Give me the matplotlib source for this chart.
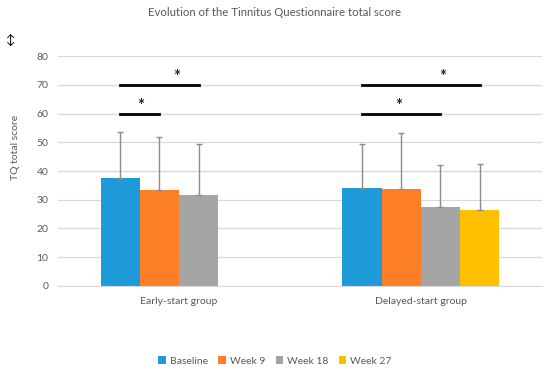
import numpy as np
import matplotlib.pyplot as plt

plt.rcParams['font.family'] = ['Lato', 'DejaVu Sans']

groups = ['Early-start group', 'Delayed-start group']
series = ['Baseline', 'Week 9', 'Week 18', 'Week 27']
colors = ['#1f9ad8', '#fd7f25', '#a5a5a5', '#ffc000']

# mean TQ score (nan = not measured)
means = [[37.6, 34.2],
         [33.5, 33.6],
         [31.5, 27.6],
         [np.nan, 26.5]]
# upper error (SD)
errs = [[16.1, 15.2],
        [18.4, 19.5],
        [17.9, 14.4],
        [np.nan, 16.0]]

# significance brackets: (group, series from, series to, level, star x offset)
sig = [(0, 0, 2, 70, -0.01), (0, 0, 1, 60, -0.16),
       (1, 0, 3, 70, 0.09), (1, 0, 2, 60, -0.09)]

fig = plt.figure(figsize=(5.5, 3.71), dpi=100)
ax = fig.add_axes([0.1055, 0.2299, 0.8795, 0.6183])

x = np.arange(len(groups))
w = 0.162
for i, s in enumerate(series):
    off = (i - 1.5) * w
    m = np.array(means[i])
    e = np.array(errs[i])
    ax.bar(x + off, m, w, color=colors[i], label=s, zorder=2)
    ax.errorbar(x + off, m, yerr=[np.zeros_like(e), e], fmt='none',
                ecolor='#8c8c8c', elinewidth=1, capsize=2.5, capthick=1, zorder=3)

for g, a, b, lvl, sx in sig:
    xa = g + (a - 1.5) * w
    xb = g + (b - 1.5) * w
    ax.plot([xa, xb], [lvl, lvl], color='black', lw=2, zorder=4)
    ax.text(g + sx, lvl + 2.8, '*', ha='center', va='center', fontsize=12,
            fontweight='bold', color='#222222')

ax.set_xlim(-0.5, 1.5)
ax.set_ylim(0, 80)
ax.set_yticks(range(0, 81, 10))
ax.set_xticks(x)
ax.set_xticklabels(groups)
ax.grid(axis='y', color='#d9d9d9', lw=0.9, zorder=0)
for sp in ['top', 'right', 'left']:
    ax.spines[sp].set_visible(False)
ax.spines['bottom'].set_color('#d9d9d9')
ax.tick_params(length=0, labelsize=7.5, colors='#595959')
ax.tick_params(axis='y', pad=7)
ax.tick_params(axis='x', pad=8)

fig.text(0.5, 1 - 13 / 371, 'Evolution of the Tinnitus Questionnaire total score',
         ha='center', va='center', fontsize=8.2, color='#595959')
fig.text(0.029, 1 - 147 / 371, 'TQ total score', rotation=90, ha='center',
         va='center', fontsize=7.5, color='#595959')
fig.text(0.02, 1 - 40 / 371, '↕', ha='center', va='center', fontsize=9,
         color='black')

fig.legend(loc='center', bbox_to_anchor=(0.5, 1 - 361 / 371), ncol=4,
           frameon=False, fontsize=7.5, handlelength=0.7, handleheight=0.7,
           handletextpad=0.4, columnspacing=1.0, labelcolor='#595959')

fig.savefig('out.png', dpi=100)
